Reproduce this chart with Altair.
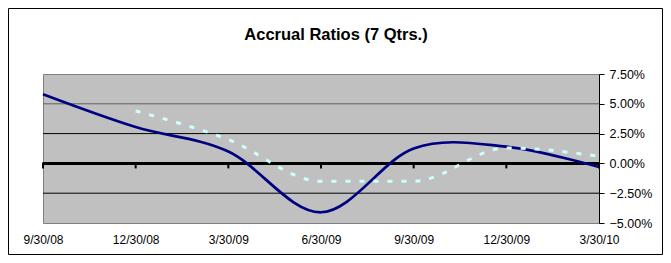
import altair as alt
import pandas as pd

title = "Accrual Ratios (7 Qtrs.)"
dates = ["9/30/08", "12/30/08", "3/30/09", "6/30/09", "9/30/09", "12/30/09", "3/30/10"]
solid = [5.8, 3.05, 1.0, -4.1, 1.25, 1.4, -0.3]
dashed = [None, 4.4, 2.0, -1.5, -1.5, 1.3, 0.6]
y_ticks = [-5, -2.5, 0, 2.5, 5, 7.5]
grid_vals = [-2.5, 2.5, 5]
grid_cols = ["#000000", "#000000", "#606060"]

W, H = 556, 149
PL, PT, PR, PB = 35, 66, 64, 32

solid_df = pd.DataFrame({"date": dates, "value": solid})
dashed_df = pd.DataFrame({"date": dates, "value": dashed}).dropna()
zero_df = pd.DataFrame({"date": dates, "value": [0] * len(dates)})
grid_df = pd.DataFrame({"value": grid_vals, "c": grid_cols})
one = pd.DataFrame({"t": [title]})

xenc = alt.X("date:O", sort=dates, scale=alt.Scale(type="point", padding=0),
             axis=alt.Axis(title=None, labelAngle=0, domain=False, ticks=False,
                           labelPadding=11, labelFontSize=12, labelFont="Liberation Sans",
                           labelColor="black"))
yenc = alt.Y("value:Q", scale=alt.Scale(domain=[-5, 7.5], nice=False, zero=False),
             axis=alt.Axis(orient="right", values=y_ticks, title=None, grid=False,
                           labelExpr="format(datum.value/100, '.2%')",
                           domainColor="black", tickColor="black", tickSize=5,
                           labelPadding=5, labelFontSize=12.5, labelFont="Liberation Sans",
                           labelColor="black"))

grid = alt.Chart(grid_df).mark_rule(strokeWidth=1).encode(
    y=yenc, color=alt.Color("c:N", scale=None))
zero = alt.Chart(zero_df).mark_rule(strokeWidth=2.5, color="black").encode(y=yenc)
ticks = alt.Chart(zero_df).mark_tick(orient="vertical", size=6, thickness=2,
                                     yOffset=2, color="black", opacity=1).encode(x=xenc, y=yenc)
line1 = alt.Chart(solid_df).mark_line(color="#000080", strokeWidth=2.7,
                                       interpolate="cardinal", tension=0).encode(x=xenc, y=yenc)
line2 = alt.Chart(dashed_df).mark_line(color="#CCFFFF", strokeWidth=3, strokeDash=[5, 9],
                                       interpolate="monotone").encode(x=xenc, y=yenc)
ttl = alt.Chart(one).mark_text(fontSize=16.5, fontWeight="bold", font="Liberation Sans",
                               align="center", baseline="middle", color="black").encode(
    x=alt.value(293), y=alt.value(-39.5), text="t:N")
frame = alt.Chart(one).mark_rect(fillOpacity=0, stroke="black", strokeWidth=1).encode(
    x=alt.value(-PL + 0.5), x2=alt.value(W + PR - 0.5),
    y=alt.value(-PT + 0.5), y2=alt.value(H + PB - 0.5))

chart = alt.layer(grid, zero, ticks, line1, line2, ttl, frame).properties(
    width=W, height=H, autosize=alt.AutoSizeParams(type="none"),
    padding={"left": PL, "top": PT, "right": PR, "bottom": PB},
    background="white"
).configure_view(fill="#C0C0C0", stroke="#808080", strokeWidth=1)

chart.save("out.html", embed_options={"renderer": "svg", "actions": False})
